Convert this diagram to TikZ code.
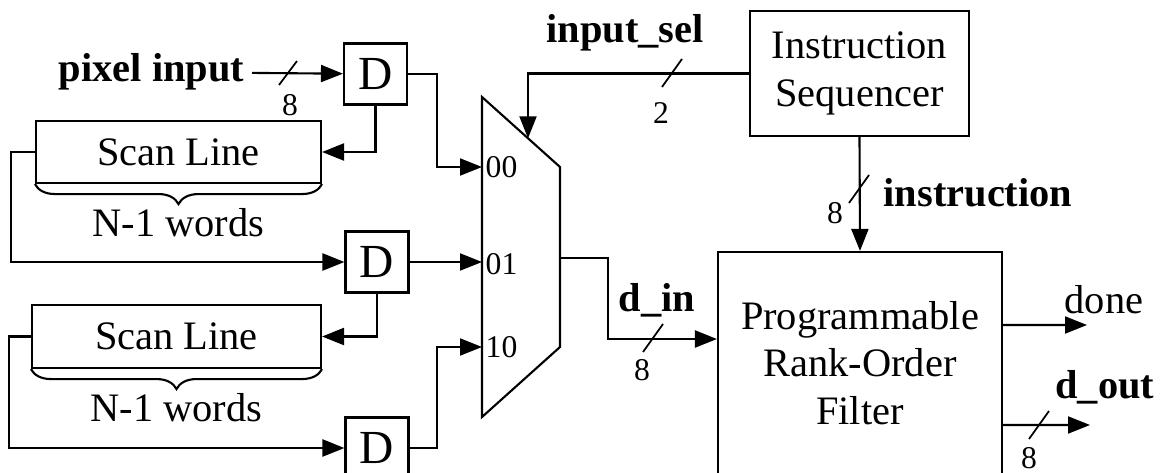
\documentclass[tikz,border=0pt]{standalone}
\usepackage{fontspec}
\setmainfont{Liberation Serif}
\usetikzlibrary{arrows.meta,calc,positioning,decorations.pathreplacing}

\begin{document}
\begin{tikzpicture}[
    x=0.1mm, y=-0.1mm,
    node distance=0.22cm,
    blk/.style={draw, line width=0.6pt, align=center, inner sep=0pt, font=\fontsize{11.5}{13.6}\selectfont},
    dff/.style={blk, minimum width=6.3mm, minimum height=6.1mm, font=\fontsize{13.5}{16}\selectfont},
    sig/.style={-{Triangle[length=2.2mm, width=1.7mm]}, line width=0.6pt},
    wire/.style={line width=0.6pt},
    busmark/.style={line width=0.5pt},
    lbl/.style={inner sep=2pt, font=\fontsize{11.5}{14}\selectfont\bfseries},
    txt/.style={inner sep=0pt, font=\fontsize{11.5}{14}\selectfont},
    num/.style={inner sep=0pt, font=\fontsize{9}{11}\selectfont},
    curly/.style={decorate, decoration={brace, mirror, amplitude=2mm}, line width=0.6pt}
  ]
    \useasboundingbox (0,0) rectangle (1162,473);

    % registers and line buffers
    \node[dff] (d1) at (375.5,74) {D};
    \node[dff] (d2) at (377,262) {D};
    \node[dff] (d3) at (377,448) {D};
    \node[blk, minimum width=2.85cm, minimum height=0.62cm] (scan1) at (178.5,152) {Scan Line};
    \node[blk, minimum width=2.89cm, minimum height=0.63cm] (scan2) at (176.5,336.5) {Scan Line};
    \draw[curly] (scan1.south west) -- (scan1.south east);
    \draw[curly] (scan2.south west) -- (scan2.south east);
    \node[txt, below=0.24cm of scan1] (words1) {N-1 words};
    \node[txt, below=0.24cm of scan2] (words2) {N-1 words};

    % multiplexer
    \draw[wire] (482,97) coordinate (mtl) -- (560,167) coordinate (mtr)
      -- (560,347) coordinate (mbr) -- (482,417) coordinate (mbl) -- cycle;
    \coordinate (m00) at (482,167);
    \coordinate (m01) at (482,262);
    \coordinate (m10) at (482,347);
    \coordinate (mout) at (560,258);
    \coordinate (msel) at ($(mtl)!0.59!(mtr)$);
    \node[num, anchor=west] (p00) at (485,167) {00};
    \node[num, anchor=west] (p01) at (485,264) {01};
    \node[num, anchor=west] (p10) at (485,347) {10};

    % control and filter
    \node[blk, minimum width=2.19cm, minimum height=1.25cm] (seq) at (859.5,73.5) {Instruction\\Sequencer};
    \node[blk, minimum width=2.84cm, minimum height=2.22cm] (filter) at (860,363) {Programmable\\Rank-Order\\Filter};

    % labels
    \node[lbl, anchor=east] (pixin) at (252,72) {pixel input};
    \node[lbl] (sellbl) at (625,33) {input\_sel};
    \node[lbl] (dinlbl) at (657,300) {d\_in};
    \node[lbl] (instlbl) at (978,193) {instruction};
    \node[txt] (donelbl) at (1104,300) {done};
    \node[lbl, anchor=east] (doutlbl) at (1162,387) {d\_out};
    \coordinate (done) at (1087,325);
    \coordinate (dout) at (1090,425);

    % connections
    \draw[sig] (pixin) -- (d1);
    \draw[sig] (d1.south) |- (scan1.east);
    \draw[sig] (scan1.west) -- ++(-24,0) |- (d2.west);
    \draw[sig] (d2.south) |- (scan2.east);
    \draw[sig] (scan2.west) -- ++(-22,0) |- (d3.west);
    \draw[sig] (d1.east) -- ++(29,0) |- (m00);
    \draw[sig] (d2.east) -- (m01);
    \draw[sig] (d3.east) -- ++(27,0) |- (m10);
    \draw[sig] (seq.west) -| (msel);
    \draw[sig] (mout) -- ++(48,0) |- ([yshift=0.24cm]filter.west);
    \draw[sig] (seq.south) -- (filter.north);
    \draw[sig] ([yshift=0.38cm]filter.east) -- (done);
    \draw[sig] ([yshift=-0.62cm]filter.east) -- (dout);

    % bus widths
    \draw[busmark] (288,73) ++(-9,12) -- ++(18,-24);
    \node[num] (w1) at (290,105) {8};
    \draw[busmark] (672,73) ++(-10,14) -- ++(20,-28);
    \node[num] (w2) at (661,113) {2};
    \draw[busmark] (653,338) ++(-10,14) -- ++(20,-28);
    \node[num] (w3) at (642,370) {8};
    \draw[busmark] (859,189) ++(-10,14) -- ++(20,-28);
    \node[num] (w4) at (835,213) {8};
    \draw[busmark] (1039,425) ++(-10,14) -- ++(20,-28);
    \node[num] (w5) at (1029,458) {8};
\end{tikzpicture}
\end{document}
